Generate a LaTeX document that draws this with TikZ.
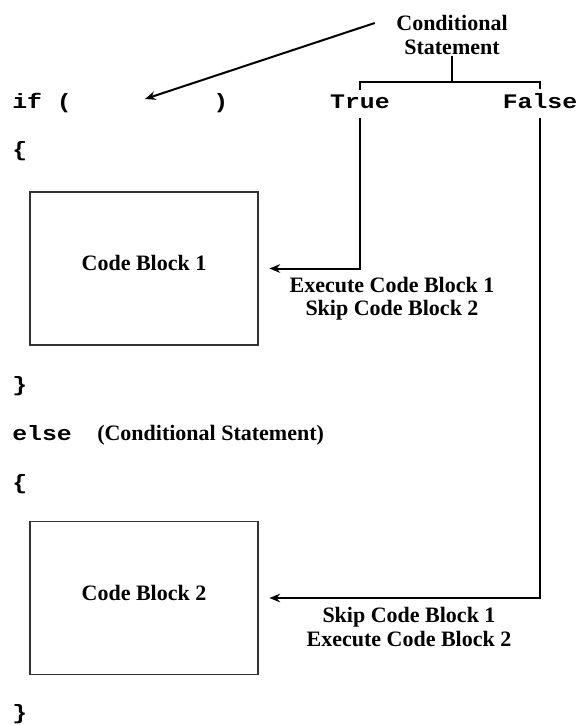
\documentclass[tikz,border=0pt]{standalone}
\usepackage{fontspec}
\setmainfont{Liberation Serif}
\setmonofont[FakeStretch=1.2]{Liberation Mono}
\usetikzlibrary{arrows.meta}

\begin{document}
\begin{tikzpicture}[x=0.75pt, y=-0.75pt,
  code/.style={anchor=base west, inner sep=0pt, font=\fontsize{15.5}{17}\selectfont\ttfamily\bfseries},
  note/.style={align=center, inner sep=1pt, font=\fontsize{16.5}{17.5}\selectfont\bfseries},
  block/.style={draw=black!80, line width=1.2pt, minimum width=171pt, minimum height=114.75pt, text depth=8pt, font=\fontsize{16.5}{17.5}\selectfont\bfseries},
  link/.style={line width=1.5pt, -{Stealth[length=8pt,width=6.5pt]}}]
\useasboundingbox (0,0) rectangle (579,725);

\node[code] (if) at (12,108) {if (};
\node[code] (ifclose) at (213,108) {)};
\coordinate (ifslot) at (145,99);
\node[code] (open1) at (12,156) {\{};
\node[block] (blk1) at (144,268.5) {Code Block 1};
\node[code] (close1) at (12,391) {\}};
\node[code] (else) at (12,440) {else};
\node[note, anchor=base west, inner sep=0pt] (elsecond) at (97,440) {(Conditional Statement)};
\node[code] (open2) at (12,489) {\{};
\node[block] (blk2) at (144,598) {Code Block 2};
\node[code] (close2) at (12,719) {\}};

\node[note] (cond) at (452,35) {Conditional\\Statement};
\node[code, anchor=base] (true) at (360,108) {True};
\node[code, anchor=base] (false) at (540,108) {False};
\coordinate (brk) at (452,82);

\draw[link] ([xshift=-15pt,yshift=9pt]cond.west) -- (ifslot);

\draw[line width=1.5pt] (cond.south) -- (brk);
\draw[line width=1.5pt] ([yshift=3pt]true.north) |- (brk) -| ([yshift=3pt]false.north);

\draw[link, shorten >=8pt] ([yshift=-7pt]true.south) |- (blk1.east);
\draw[link, shorten >=8pt] ([yshift=-7pt]false.south) |- (blk2.east);

\node[note] (out1) at (392,299) {Execute Code Block 1\\Skip Code Block 2};
\node[note] (out2) at (409,627) {Skip Code Block 1\\Execute Code Block 2};
\end{tikzpicture}
\end{document}
